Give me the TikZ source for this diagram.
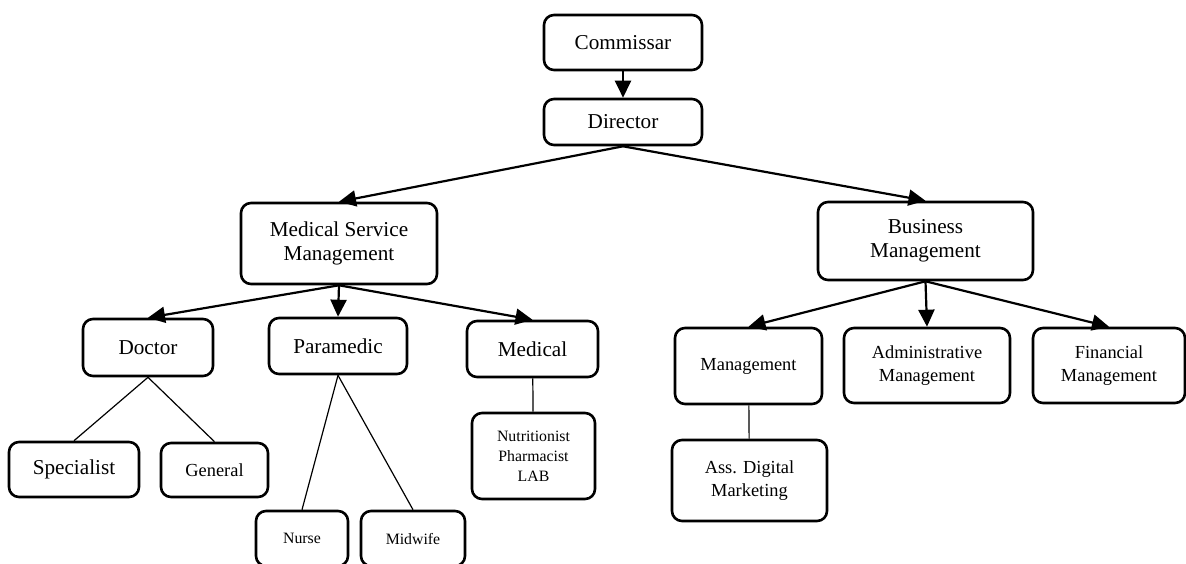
\documentclass[tikz,border=0pt]{standalone}
\usepackage{fontspec}
\setmainfont{Liberation Serif}
\usetikzlibrary{arrows.meta}

\begin{document}
\begin{tikzpicture}[x=0.5pt, y=-0.5pt, align=center, >={Triangle[length=8.5pt,width=8pt]}]

    % Styles
    \tikzstyle{box} = [draw, line width=1.3pt, rounded corners=5pt, inner sep=0pt]
    \tikzstyle{bigbox} = [box, font=\fontsize{10.6}{12.2}\selectfont]
    \tikzstyle{midbox} = [box, font=\fontsize{9.2}{11.3}\selectfont]
    \tikzstyle{smallbox} = [box, font=\fontsize{7.9}{10}\selectfont]
    \tikzstyle{link} = [->, line width=1.1pt]
    \tikzstyle{branch} = [line width=0.6pt]

    \useasboundingbox (0,0) rectangle (1186,563);

    % Top
    \node[bigbox, minimum width=79pt, minimum height=27.5pt] (comm) at (623,42.5) {Commissar};
    \node[bigbox, minimum width=79pt, minimum height=23pt] (dir) at (623,122) {Director};

    % Divisions
    \node[bigbox, minimum width=98pt, minimum height=40.5pt] (msm) at (339,243.5) {Medical Service\\Management};
    \node[bigbox, minimum width=107.5pt, minimum height=39pt] (bm) at (925.5,241) {Business\\Management};

    % Medical Service units
    \node[bigbox, minimum width=65pt, minimum height=28.5pt] (doc) at (148,347.5) {Doctor};
    \node[bigbox, minimum width=69pt, minimum height=28pt] (para) at (338,346) {Paramedic};
    \node[bigbox, minimum width=65.5pt, minimum height=28pt] (med) at (532.5,349) {Medical};

    \node[bigbox, minimum width=65pt, minimum height=27.5pt] (spec) at (74,469.5) {Specialist};
    \node[midbox, minimum width=53.5pt, minimum height=27pt] (gen) at (214.5,470) {General};
    \node[smallbox, minimum width=46pt, minimum height=27.5pt] (nurse) at (302,538.5) {Nurse};
    \node[smallbox, minimum width=52pt, minimum height=27.5pt] (mid) at (413,538.5) {Midwife};
    \node[smallbox, minimum width=61.5pt, minimum height=43pt] (nutr) at (533.5,456) {Nutritionist\\Pharmacist\\LAB};

    % Business units
    \node[midbox, minimum width=73.5pt, minimum height=38pt] (mgmt) at (748.5,366) {Management};
    \node[midbox, minimum width=83pt, minimum height=37.5pt] (adm) at (927,365.5) {Administrative\\Management};
    \node[midbox, minimum width=76pt, minimum height=37.5pt] (fin) at (1109,365.5) {Financial\\Management};
    \node[midbox, minimum width=77.5pt, minimum height=40.5pt] (adm2) at (749.5,480.5) {Ass. Digital\\Marketing};

    % Arrows
    \draw[link] (comm) -- (dir);
    \foreach \t in {msm,bm}
        \draw[link] (dir.south) -- (\t.north);
    \foreach \t in {doc,para,med}
        \draw[link] (msm.south) -- (\t.north);
    \foreach \t in {mgmt,adm,fin}
        \draw[link] (bm.south) -- (\t.north);

    % Plain lines
    \foreach \t in {spec,gen}
        \draw[branch] (doc.south) -- (\t.north);
    \foreach \t in {nurse,mid}
        \draw[branch] (para.south) -- (\t.north);
    \draw[branch] (med) -- (nutr);
    \draw[branch] (mgmt) -- (adm2);

\end{tikzpicture}
\end{document}
